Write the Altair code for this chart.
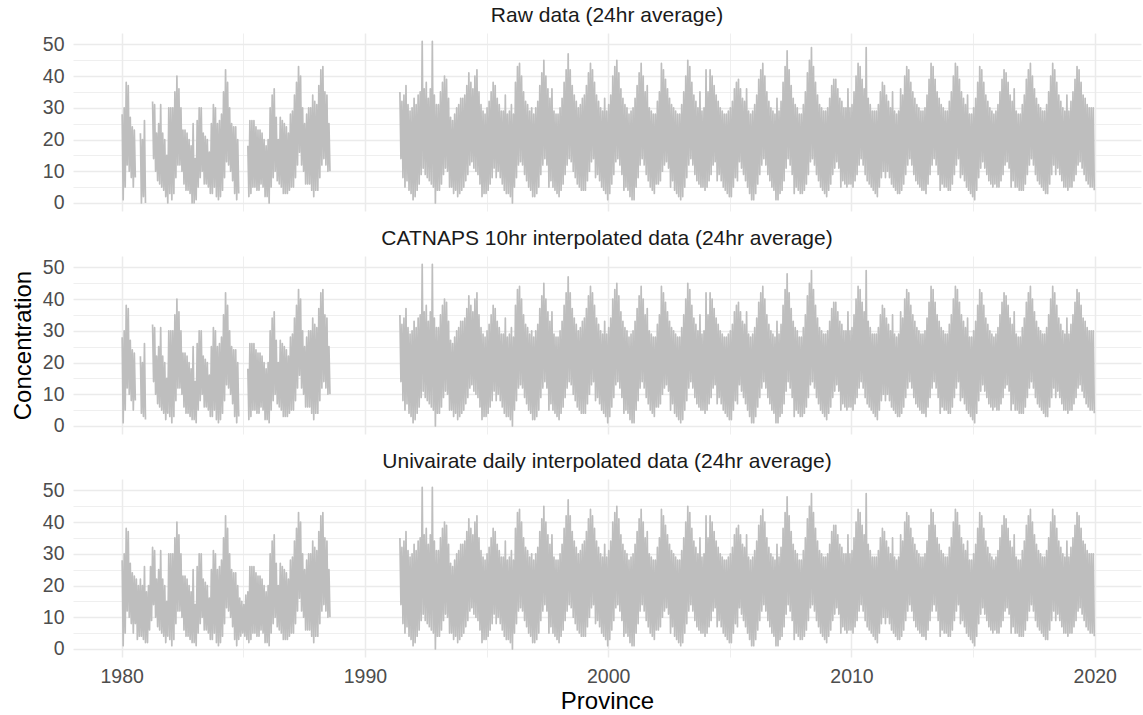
import altair as alt
import pandas as pd

N = None
FONT = "Liberation Sans"

PANELS = [
    "Raw data (24hr average)",
    "CATNAPS 10hr interpolated data (24hr average)",
    "Univairate daily interpolated data (24hr average)",
]
Y_TICKS = [0, 5, 10, 15, 20, 25, 30, 35, 40, 45, 50]
X_TICKS = [1980, 1985, 1990, 1995, 2000, 2005, 2010, 2015, 2020]

# Monthly highs / lows of the 24hr averages, 1980-1988 (None = missing)
HI_80S = {
    1980: [28, 30, 38, 37, 27, 24, 23, N, N, 22, 20, 26],
    1981: [N, N, N, 32, 31, 22, 25, 31, 22, 20, 15, 30],
    1982: [30, 30, 35, 40, 36, 30, 23, 23, 22, 20, 18, 25],
    1983: [14, 26, 30, 30, 22, 21, 20, 16, 25, 31, 30, 25],
    1984: [26, 28, 35, 42, 38, 30, 25, 24, 24, 20, N, N],
    1985: [N, N, 18, 26, 26, 26, 24, 23, 23, 22, 20, 18],
    1986: [20, 30, 34, 36, 27, 20, 27, 26, 25, 24, 22, 28],
    1987: [29, 34, 38, 43, 40, 30, 25, 28, 30, 30, 34, 32],
    1988: [31, 37, 42, 43, 35, 34, 25, N, N, N, N, N],
}
LO_80S_CATNAPS = {
    1980: [1, 5, 12, 10, 8, 5, 8, N, N, 4, 3, 2],
    1981: [N, N, N, 14, 10, 7, 6, 5, 4, 2, 4, 3],
    1982: [1, 3, 8, 12, 12, 10, 6, 4, 4, 3, 2, 2],
    1983: [1, 5, 8, 10, 6, 6, 5, 3, 3, 5, 2, 1],
    1984: [2, 4, 8, 13, 12, 10, 7, 3, 1, 3, N, N],
    1985: [N, N, 2, 3, 5, 5, 4, 4, 6, 5, 2, 2],
    1986: [1, 5, 8, 10, 7, 6, 5, 3, 3, 3, 4, 5],
    1987: [5, 8, 12, 16, 12, 10, 6, 6, 6, 4, 2, 4],
    1988: [4, 8, 12, 14, 12, 10, 10, N, N, N, N, N],
}
LO_80S_RAW = {
    1980: [1, 5, 12, 10, 8, 5, 8, N, N, 0, 2, 0],
    1981: [N, N, N, 14, 10, 7, 6, 5, 4, 2, 0, 3],
    1982: [1, 3, 8, 12, 12, 10, 6, 4, 4, 3, 0, 0],
    1983: [1, 5, 8, 10, 6, 6, 5, 3, 3, 5, 2, 1],
    1984: [2, 4, 8, 13, 12, 10, 7, 3, 1, 3, N, N],
    1985: [N, N, 2, 3, 5, 5, 4, 4, 6, 5, 2, 2],
    1986: [0, 5, 8, 10, 7, 6, 5, 3, 3, 3, 4, 5],
    1987: [5, 8, 12, 16, 12, 10, 6, 6, 6, 4, 2, 4],
    1988: [4, 8, 12, 14, 12, 10, 10, N, N, N, N, N],
}
# months filled by the univariate daily interpolation: (year, month): (high, low)
UNI_FILL = {
    (1980, 8): (22, 3), (1980, 9): (20, 4),
    (1981, 1): (18, 2), (1981, 2): (20, 6), (1981, 3): (26, 9),
    (1984, 11): (16, 4), (1984, 12): (15, 5),
    (1985, 1): (14, 4), (1985, 2): (17, 3),
}

# Monthly highs / lows, 1991-2019 (same in all three panels)
HI_90S = {
    1991: [N, N, N, N, N, 35, 32, 34, 37, 31, 29, 30],
    1992: [33, 31, 34, 35, 51, 36, 38, 33, 36, 51, 34, 31],
    1993: [31, 35, 38, 40, 39, 33, 27, 26, 28, 30, 31, 33],
    1994: [33, 34, 37, 41, 38, 36, 40, 42, 35, 31, 29, 28],
    1995: [30, 32, 35, 38, 37, 33, 31, 29, 29, 34, 28, 29],
    1996: [31, 28, 38, 43, 44, 40, 35, 32, 31, 29, 30, 28],
    1997: [30, 32, 37, 41, 45, 40, 36, 33, 36, 29, 28, 28],
    1998: [30, 33, 38, 42, 47, 42, 37, 34, 32, 30, 31, 33],
    1999: [34, 37, 41, 44, 42, 38, 34, 32, 30, 29, 33, 29],
    2000: [31, 34, 40, 43, 45, 41, 36, 33, 31, 30, 28, 29],
    2001: [30, 33, 37, 41, 44, 40, 35, 37, 30, 29, 28, 28],
    2002: [32, 35, 44, 42, 39, 36, 33, 31, 30, 29, 28, 28],
    2003: [31, 35, 40, 45, 43, 38, 34, 32, 30, 35, 29, 30],
    2004: [42, 35, 42, 40, 37, 34, 32, 30, 29, 28, 28, 29],
    2005: [30, 32, 36, 38, 39, 36, 33, 32, 36, 29, 28, 29],
    2006: [31, 34, 39, 42, 44, 40, 35, 32, 30, 29, 28, 33],
    2007: [29, 32, 38, 43, 48, 42, 37, 33, 31, 30, 28, 28],
    2008: [31, 35, 41, 45, 49, 43, 38, 34, 31, 30, 29, 29],
    2009: [30, 33, 37, 39, 39, 36, 33, 32, 30, 30, 36, 30],
    2010: [31, 35, 40, 44, 43, 39, 36, 49, 33, 31, 29, 29],
    2011: [29, 31, 35, 38, 37, 34, 32, 30, 35, 29, 28, 29],
    2012: [36, 34, 40, 43, 42, 38, 35, 33, 31, 30, 29, 29],
    2013: [30, 34, 39, 44, 43, 39, 35, 33, 31, 30, 29, 29],
    2014: [32, 35, 40, 44, 43, 39, 35, 33, 31, 34, 28, 28],
    2015: [30, 33, 38, 43, 42, 38, 34, 32, 30, 29, 28, 29],
    2016: [31, 35, 39, 42, 41, 38, 34, 32, 36, 29, 28, 28],
    2017: [31, 34, 39, 42, 44, 40, 36, 33, 31, 30, 29, 29],
    2018: [31, 35, 40, 44, 42, 38, 34, 32, 30, 29, 34, 29],
    2019: [32, 35, 39, 43, 42, 38, 34, 33, 31, 30, 30, 30],
}
LO_90S = {
    1991: [N, N, N, N, N, 14, 8, 5, 7, 4, 3, 1],
    1992: [2, 4, 6, 9, 11, 9, 8, 7, 6, 5, 0, 4],
    1993: [4, 6, 9, 11, 10, 5, 5, 3, 4, 2, 3, 4],
    1994: [5, 7, 9, 12, 13, 11, 10, 9, 6, 2, 3, 3],
    1995: [4, 6, 8, 11, 8, 10, 8, 6, 4, 3, 3, 2],
    1996: [0, 5, 8, 12, 13, 12, 9, 7, 5, 4, 2, 2],
    1997: [3, 5, 9, 12, 14, 12, 5, 7, 5, 4, 3, 2],
    1998: [4, 6, 9, 12, 14, 13, 10, 8, 6, 5, 4, 4],
    1999: [4, 7, 10, 13, 14, 8, 9, 7, 5, 4, 3, 1],
    2000: [3, 6, 9, 13, 14, 12, 9, 4, 5, 4, 2, 1],
    2001: [1, 5, 8, 12, 14, 12, 9, 7, 5, 4, 3, 6],
    2002: [6, 7, 10, 12, 13, 11, 5, 7, 4, 3, 2, 1],
    2003: [2, 5, 8, 12, 14, 12, 9, 7, 6, 5, 5, 4],
    2004: [5, 7, 9, 12, 13, 7, 9, 7, 5, 4, 3, 2],
    2005: [2, 5, 8, 7, 13, 11, 9, 7, 5, 3, 1, 1],
    2006: [3, 6, 9, 12, 14, 12, 9, 7, 5, 4, 1, 1],
    2007: [3, 4, 7, 11, 14, 12, 9, 3, 5, 4, 3, 3],
    2008: [4, 6, 9, 13, 14, 12, 9, 7, 5, 4, 3, 2],
    2009: [4, 6, 9, 11, 13, 11, 5, 7, 6, 5, 6, 6],
    2010: [5, 7, 9, 12, 14, 12, 9, 7, 6, 5, 4, 3],
    2011: [2, 5, 8, 10, 8, 10, 8, 6, 5, 4, 3, 3],
    2012: [4, 6, 9, 12, 14, 12, 9, 7, 6, 5, 4, 4],
    2013: [3, 6, 9, 12, 14, 12, 9, 4, 6, 5, 5, 4],
    2014: [4, 6, 9, 12, 14, 8, 9, 7, 5, 4, 3, 2],
    2015: [1, 4, 8, 11, 13, 11, 9, 7, 6, 5, 6, 5],
    2016: [5, 7, 9, 12, 13, 11, 5, 7, 5, 5, 4, 4],
    2017: [4, 6, 9, 12, 14, 12, 9, 7, 6, 5, 4, 3],
    2018: [3, 6, 9, 12, 9, 11, 9, 7, 5, 5, 4, 5],
    2019: [5, 7, 9, 12, 13, 11, 9, 7, 6, 5, 5, 4],
}


def build(hi80, lo80, fill=None):
    rows = []
    seg = 0
    prev = False
    empty = [N] * 12
    for year in range(1980, 2020):
        if year <= 1988:
            his, los = hi80.get(year, empty), lo80.get(year, empty)
        else:
            his, los = HI_90S.get(year, empty), LO_90S.get(year, empty)
        for m in range(12):
            h, l = his[m], los[m]
            if fill and (year, m + 1) in fill:
                h, l = fill[(year, m + 1)]
            if h is None or l is None:
                prev = False
                continue
            if not prev:
                seg += 1
            prev = True
            rows.append({"t": year + (m + 0.25) / 12, "value": h, "seg": seg})
            rows.append({"t": year + (m + 0.75) / 12, "value": l, "seg": seg})
    return pd.DataFrame(rows)


DATA = [
    build(HI_80S, LO_80S_RAW),
    build(HI_80S, LO_80S_CATNAPS),
    build(HI_80S, LO_80S_CATNAPS, UNI_FILL),
]

GRID_W = {"condition": {"test": "datum.value % 10 === 0", "value": 1.5}, "value": 0.8}
LABEL_EXPR = "datum.value % 10 === 0 ? datum.label : ''"


def make(i):
    last = i == 2
    xk = dict(values=X_TICKS, grid=True, gridColor="#EBEBEB", gridWidth=GRID_W,
              domain=False, ticks=False, labels=last, format="d", labelExpr=LABEL_EXPR,
              labelFontSize=19.5, labelFont=FONT, labelColor="#4D4D4D", labelPadding=10,
              titleFontSize=24, titleFont=FONT, titleFontWeight="normal",
              titleColor="#000000", titlePadding=4)
    xk["title"] = "Province" if last else None
    yk = dict(values=Y_TICKS, grid=True, gridColor="#EBEBEB", gridWidth=GRID_W,
              domain=False, ticks=False, labelExpr=LABEL_EXPR,
              labelFontSize=19.5, labelFont=FONT, labelColor="#4D4D4D", labelPadding=9,
              titleFontSize=24, titleFont=FONT, titleFontWeight="normal",
              titleColor="#000000", titlePadding=7)
    yk["title"] = "Concentration" if i == 1 else None
    return alt.Chart(DATA[i]).mark_line(
        color="#BEBEBE", strokeWidth=1.7, strokeJoin="round", clip=True
    ).encode(
        x=alt.X("t:Q", scale=alt.Scale(domain=[1978, 2021.9], nice=False, zero=False),
                axis=alt.Axis(**xk)),
        y=alt.Y("value:Q", scale=alt.Scale(domain=[-2.55, 53.6], nice=False, zero=False),
                axis=alt.Axis(**yk)),
        detail="seg:N",
    ).properties(
        width=1068, height=178,
        title=alt.TitleParams(text=PANELS[i], fontSize=21, font=FONT, fontWeight="normal",
                              color="#1A1A1A", anchor="middle", offset=7),
    )


chart = alt.vconcat(make(0), make(1), make(2), spacing=14).properties(
    padding={"left": 10, "top": 4, "right": 0, "bottom": 0},
    background="white",
).configure_view(stroke="transparent")

chart.save("out.html", embed_options={"renderer": "svg", "actions": False})
